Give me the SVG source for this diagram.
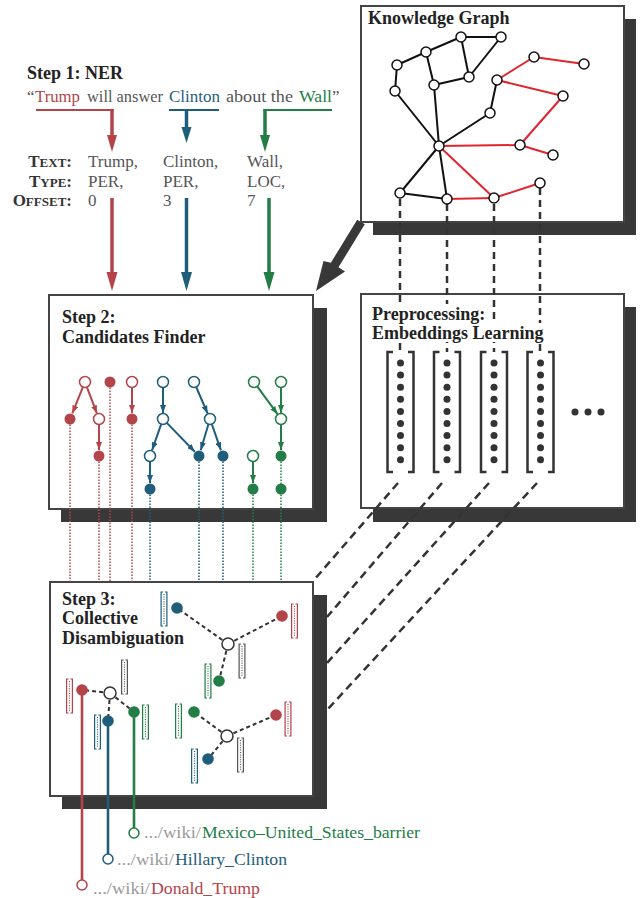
<svg xmlns="http://www.w3.org/2000/svg" width="641" height="898" viewBox="0 0 641 898">
<defs>
<style>
.t{font-family:'Liberation Serif','Times New Roman',serif;font-size:17px;fill:#555}
.h{font-family:'Liberation Serif','Times New Roman',serif;font-size:18px;font-weight:bold;fill:#222}
.lab{font-family:'Liberation Serif','Times New Roman',serif;font-size:17px;font-weight:bold;fill:#333}
.box{fill:#fff;stroke:#444;stroke-width:2}
.sh{fill:#383838}
.kgn{fill:#fff;stroke:#111;stroke-width:1.5}
.kge{stroke:#111;stroke-width:2;fill:none}
.kgr{stroke:#e0252e;stroke-width:2;fill:none}
.dash{stroke:#333;stroke-width:2.5;stroke-dasharray:7 5;fill:none}
.dot{stroke-width:1.5;stroke-dasharray:1.5 1.5;fill:none}
.cd{stroke:#333;stroke-width:2;stroke-dasharray:4 3;fill:none}
.R{stroke:#b3454a}.B{stroke:#1f5e7a}.G{stroke:#237d46}
.fR{fill:#b3454a}.fB{fill:#1f5e7a}.fG{fill:#237d46}
.o{fill:#fff;stroke-width:1.5}
.ar{stroke-width:2;fill:none}
.thick{stroke-width:3.5;fill:none}
.thin{stroke-width:2;fill:none}
.vb{fill:none;stroke:#333;stroke-width:2.5}
.vd{fill:#333}
.gray{fill:#999}
</style>
<marker id="mR" viewBox="0 0 8 6" markerWidth="8" markerHeight="6" refX="8" refY="3" orient="auto" markerUnits="userSpaceOnUse"><path d="M0,0L8,3L0,6z" fill="#b3454a"/></marker>
<marker id="mB" viewBox="0 0 8 6" markerWidth="8" markerHeight="6" refX="8" refY="3" orient="auto" markerUnits="userSpaceOnUse"><path d="M0,0L8,3L0,6z" fill="#1f5e7a"/></marker>
<marker id="mG" viewBox="0 0 8 6" markerWidth="8" markerHeight="6" refX="8" refY="3" orient="auto" markerUnits="userSpaceOnUse"><path d="M0,0L8,3L0,6z" fill="#237d46"/></marker>
<g id="vec" fill="none" stroke="currentColor">
<path d="M2.6,0H0.6V34H2.6M4.4,0H6.4V34H4.4" stroke-width="1.2"/>
<line x1="3.5" y1="2" x2="3.5" y2="32" stroke-width="1.2" stroke-dasharray="1 1.4"/>
</g>
</defs>
<rect width="641" height="898" fill="#fff"/>

<!-- big arrow KG -> step 2 -->
<g id="kg-arrow" fill="#383838">
<polygon points="357.2,219.7 364.8,224.3 338.5,267.3 345,271.5 316,291 323.5,261 330.9,262.7"/>
</g>

<!-- Boxes -->
<g id="kg-box"><rect class="sh" x="373" y="19" width="263" height="216"/><rect class="box" x="361" y="6" width="263" height="216"/><text class="h" x="368" y="24">Knowledge Graph</text></g>
<g id="step2-box"><rect class="sh" x="61" y="308" width="266" height="214"/><rect class="box" x="49" y="295" width="264" height="214"/><text class="h" x="62" y="323">Step 2:</text><text class="h" x="62" y="343">Candidates Finder</text></g>
<g id="preproc-box"><rect class="sh" x="373" y="307" width="263" height="215"/><rect class="box" x="361" y="294" width="263" height="214"/></g>
<g id="step3-box"><rect class="sh" x="62" y="595" width="265" height="214"/><rect class="box" x="50" y="582" width="263" height="214"/><text class="h" x="62" y="605">Step 3:</text><text class="h" x="62" y="624">Collective</text><text class="h" x="62" y="644">Disambiguation</text></g>

<!-- Step 1 -->
<g id="step1">
<text class="h" x="27" y="79">Step 1: NER</text>
<text class="t" x="27" y="102">“</text>
<text class="t" x="35" y="102" style="fill:#b3454a" textLength="45" lengthAdjust="spacingAndGlyphs">Trump</text>
<text class="t" x="87" y="102" textLength="76" lengthAdjust="spacingAndGlyphs">will answer</text>
<text class="t" x="169" y="102" style="fill:#1f5e7a" textLength="51" lengthAdjust="spacingAndGlyphs">Clinton</text>
<text class="t" x="226" y="102" textLength="67" lengthAdjust="spacingAndGlyphs">about the</text>
<text class="t" x="299" y="102" style="fill:#237d46" textLength="33" lengthAdjust="spacingAndGlyphs">Wall</text>
<text class="t" x="332" y="102">”</text>
<text class="lab" x="72" y="167" text-anchor="end">T<tspan font-size="13">EXT</tspan>:</text>
<text class="lab" x="72" y="186.5" text-anchor="end">T<tspan font-size="13">YPE</tspan>:</text>
<text class="lab" x="72" y="206" text-anchor="end">O<tspan font-size="13">FFSET</tspan>:</text>
<text class="t" x="88" y="167">Trump,</text><text class="t" x="88" y="186.5">PER,</text><text class="t" x="88" y="206">0</text>
<text class="t" x="163" y="167">Clinton,</text><text class="t" x="163" y="186.5">PER,</text><text class="t" x="163" y="206">3</text>
<text class="t" x="247" y="167">Wall,</text><text class="t" x="247" y="186.5">LOC,</text><text class="t" x="247" y="206">7</text>
</g>

<!-- Connectors -->
<g id="connectors">
<path class="R thin" d="M36,110H113.7"/><path class="R thick" d="M112,109V137"/><polygon class="fR" points="107,135 117,135 112,152"/>
<path class="B thin" d="M169,110H219"/><path class="B thick" d="M186.5,109V129"/><polygon class="fB" points="181.5,127 191.5,127 186.5,143"/>
<path class="G thin" d="M263.3,110H332"/><path class="G thick" d="M265,109V137"/><polygon class="fG" points="260,135 270,135 265,152"/>
<path class="R thick" d="M112,198V274"/><polygon class="fR" points="106.5,272 117.5,272 112,291"/>
<path class="B thick" d="M186.5,198V274"/><polygon class="fB" points="181,272 192,272 186.5,291"/>
<path class="G thick" d="M269,198V274"/><polygon class="fG" points="263.5,272 274.5,272 269,291"/>

<g class="kge">
<line x1="397" y1="65" x2="426" y2="52"/><line x1="426" y1="52" x2="461" y2="37"/><line x1="461" y1="37" x2="501" y2="37"/>
<line x1="461" y1="37" x2="469" y2="77"/><line x1="501" y1="37" x2="469" y2="77"/><line x1="426" y1="52" x2="434" y2="85"/>
<line x1="434" y1="85" x2="469" y2="77"/><line x1="397" y1="65" x2="395" y2="91"/><line x1="395" y1="91" x2="439" y2="146"/>
<line x1="434" y1="85" x2="439" y2="146"/><line x1="490" y1="113" x2="439" y2="146"/><line x1="497" y1="80" x2="490" y2="113"/>
<line x1="439" y1="146" x2="400" y2="193"/><line x1="439" y1="146" x2="447" y2="199"/><line x1="400" y1="193" x2="447" y2="199"/>
</g>
<g class="kgr">
<line x1="497" y1="80" x2="534" y2="57"/><line x1="534" y1="57" x2="584" y2="64"/><line x1="497" y1="80" x2="563" y2="96"/>
<line x1="563" y1="96" x2="520" y2="145"/><line x1="439" y1="146" x2="520" y2="145"/><line x1="520" y1="145" x2="553" y2="155"/>
<line x1="439" y1="146" x2="494" y2="198"/><line x1="447" y1="199" x2="494" y2="198"/><line x1="494" y1="198" x2="540" y2="183"/>
</g>
<path class="dash" d="M400,199V352M447,204V352M494,204V352M540,188V352"/>
<path class="dash" style="stroke-dasharray:8 5" d="M398,483L314,580M442,483L327,617M489,483L327,663M537,483L327,710"/>

<g class="R ar" marker-end="url(#mR)">
<line x1="82.9" y1="387.1" x2="72.3" y2="413.4"/><line x1="86.9" y1="387.1" x2="96.9" y2="413.4"/>
<line x1="99" y1="424.5" x2="99" y2="450"/><line x1="132" y1="387.5" x2="132" y2="413"/>
</g>
<g class="B ar" marker-end="url(#mB)">
<line x1="163" y1="387.5" x2="163" y2="413"/><line x1="161.2" y1="424.2" x2="152" y2="450.3"/>
<line x1="166.8" y1="422.9" x2="194.8" y2="451.7"/><line x1="196.2" y1="387" x2="207.6" y2="413.5"/>
<line x1="208.4" y1="424.3" x2="200.7" y2="450.2"/><line x1="211.8" y1="424.2" x2="221" y2="450.3"/>
<line x1="150" y1="461.5" x2="150" y2="483"/>
</g>
<g class="G ar" marker-end="url(#mG)">
<line x1="257.2" y1="386.4" x2="277.5" y2="414.2"/><line x1="281" y1="387.5" x2="281" y2="413"/>
<line x1="281" y1="424.5" x2="281" y2="450"/><line x1="253" y1="461.5" x2="253" y2="483"/>
</g>
<path class="dot R" d="M70,424.5V582M99,461.5V582M110,387.5V582M132,424.5V582"/>
<path class="dot B" d="M150,494.5V582M199,461.5V582M223,461.5V582"/>
<path class="dot G" d="M281,461.5V484M253,494.5V582M281,494.5V582"/>

<path class="cd" d="M110,693L82,690M110,693L108,721M110,693L134,712"/>
<path class="cd" d="M228,644L177,608M228,644L282,616M228,644L219,681"/>
<path class="cd" d="M227,736L194,712M227,736L276,715M227,736L208,759"/>
<path class="R" stroke-width="2.6" d="M82,690V880"/>
<path class="B" stroke-width="2.6" d="M108,721V854"/>
<path class="G" stroke-width="2.6" d="M134,712V828"/>
</g>

<!-- Preprocessing title and vectors -->
<g id="preproc">
<rect x="369" y="304" width="122" height="19" fill="#fff"/>
<rect x="369" y="323" width="179" height="19" fill="#fff"/>
<text class="h" x="372" y="320">Preprocessing:</text>
<text class="h" x="372" y="339">Embeddings Learning</text>
<g id="vec1"><path class="vb" d="M393,352H387.5V472H393M408,352H413.5V472H408"/></g>
<g id="vec2"><path class="vb" d="M439.5,352H434V472H439.5M454.5,352H460V472H454.5"/></g>
<g id="vec3"><path class="vb" d="M486.5,352H481V472H486.5M501.5,352H507V472H501.5"/></g>
<g id="vec4"><path class="vb" d="M533,352H527.5V472H533M548,352H553.5V472H548"/></g>
<g class="vd">
<circle cx="400.5" cy="363" r="3.5"/><circle cx="400.5" cy="375.1" r="3.5"/><circle cx="400.5" cy="387.2" r="3.5"/><circle cx="400.5" cy="399.3" r="3.5"/><circle cx="400.5" cy="411.4" r="3.5"/><circle cx="400.5" cy="423.5" r="3.5"/><circle cx="400.5" cy="435.6" r="3.5"/><circle cx="400.5" cy="447.7" r="3.5"/><circle cx="400.5" cy="459.8" r="3.5"/>
<circle cx="447" cy="363" r="3.5"/><circle cx="447" cy="375.1" r="3.5"/><circle cx="447" cy="387.2" r="3.5"/><circle cx="447" cy="399.3" r="3.5"/><circle cx="447" cy="411.4" r="3.5"/><circle cx="447" cy="423.5" r="3.5"/><circle cx="447" cy="435.6" r="3.5"/><circle cx="447" cy="447.7" r="3.5"/><circle cx="447" cy="459.8" r="3.5"/>
<circle cx="494" cy="363" r="3.5"/><circle cx="494" cy="375.1" r="3.5"/><circle cx="494" cy="387.2" r="3.5"/><circle cx="494" cy="399.3" r="3.5"/><circle cx="494" cy="411.4" r="3.5"/><circle cx="494" cy="423.5" r="3.5"/><circle cx="494" cy="435.6" r="3.5"/><circle cx="494" cy="447.7" r="3.5"/><circle cx="494" cy="459.8" r="3.5"/>
<circle cx="540.5" cy="363" r="3.5"/><circle cx="540.5" cy="375.1" r="3.5"/><circle cx="540.5" cy="387.2" r="3.5"/><circle cx="540.5" cy="399.3" r="3.5"/><circle cx="540.5" cy="411.4" r="3.5"/><circle cx="540.5" cy="423.5" r="3.5"/><circle cx="540.5" cy="435.6" r="3.5"/><circle cx="540.5" cy="447.7" r="3.5"/><circle cx="540.5" cy="459.8" r="3.5"/>
<circle cx="575" cy="412" r="3.5"/><circle cx="588" cy="412" r="3.5"/><circle cx="601" cy="412" r="3.5"/>
</g>
</g>

<g id="kg-nodes" class="kgn">
<circle cx="461" cy="37" r="5"/><circle cx="501" cy="37" r="5"/><circle cx="426" cy="52" r="5"/><circle cx="397" cy="65" r="5"/>
<circle cx="395" cy="91" r="5"/><circle cx="434" cy="85" r="5"/><circle cx="469" cy="77" r="5"/><circle cx="497" cy="80" r="5"/>
<circle cx="534" cy="57" r="5"/><circle cx="584" cy="64" r="5"/><circle cx="563" cy="96" r="5"/><circle cx="490" cy="113" r="5"/>
<circle cx="439" cy="146" r="5"/><circle cx="520" cy="145" r="5"/><circle cx="553" cy="155" r="5"/><circle cx="540" cy="183" r="5"/>
<circle cx="400" cy="193" r="5"/><circle cx="447" cy="199" r="5"/><circle cx="494" cy="198" r="5"/>
</g>

<g id="cand-trump">
<circle class="o R" cx="85" cy="382" r="5.5"/><circle class="fR" cx="110" cy="382" r="5.5"/><circle class="o R" cx="132" cy="382" r="5.5"/>
<circle class="fR" cx="70" cy="419" r="5.5"/><circle class="o R" cx="99" cy="419" r="5.5"/><circle class="fR" cx="132" cy="419" r="5.5"/>
<circle class="fR" cx="99" cy="456" r="5.5"/>
</g>
<g id="cand-clinton">
<circle class="o B" cx="163" cy="382" r="5.5"/><circle class="o B" cx="194" cy="382" r="5.5"/>
<circle class="o B" cx="163" cy="419" r="5.5"/><circle class="o B" cx="210" cy="419" r="5.5"/>
<circle class="o B" cx="150" cy="456" r="5.5"/><circle class="fB" cx="199" cy="456" r="5.5"/><circle class="fB" cx="223" cy="456" r="5.5"/>
<circle class="fB" cx="150" cy="489" r="5.5"/>
</g>
<g id="cand-wall">
<circle class="o G" cx="254" cy="382" r="5.5"/><circle class="o G" cx="281" cy="382" r="5.5"/>
<circle class="o G" cx="281" cy="419" r="5.5"/>
<circle class="o G" cx="253" cy="456" r="5.5"/><circle class="fG" cx="281" cy="456" r="5.5"/>
<circle class="fG" cx="253" cy="489" r="5.5"/><circle class="fG" cx="281" cy="489" r="5.5"/>
</g>

<g id="cluster1">
<use href="#vec" x="66" y="679" style="color:#b3454a"/><use href="#vec" x="121" y="660" style="color:#555"/>
<use href="#vec" x="94" y="715" style="color:#1f5e7a"/><use href="#vec" x="142" y="705" style="color:#237d46"/>
<circle class="fR" cx="82" cy="690" r="5.8"/><circle cx="110" cy="693" r="6" fill="#fff" stroke="#333" stroke-width="1.5"/>
<circle class="fB" cx="108" cy="721" r="5.8"/><circle class="fG" cx="134" cy="712" r="5.8"/>
</g>
<g id="cluster2">
<use href="#vec" x="160.5" y="592" style="color:#1f5e7a"/><use href="#vec" x="291" y="604" style="color:#b3454a"/>
<use href="#vec" x="238.5" y="644" style="color:#555"/><use href="#vec" x="204.5" y="664" style="color:#237d46"/>
<circle class="fB" cx="177" cy="608" r="5.8"/><circle cx="228" cy="644" r="6" fill="#fff" stroke="#333" stroke-width="1.5"/>
<circle class="fR" cx="282" cy="616" r="5.8"/><circle class="fG" cx="219" cy="681" r="5.8"/>
</g>
<g id="cluster3">
<use href="#vec" x="175" y="704" style="color:#237d46"/><use href="#vec" x="284.5" y="702" style="color:#b3454a"/>
<use href="#vec" x="237" y="738" style="color:#555"/><use href="#vec" x="191" y="749" style="color:#1f5e7a"/>
<circle class="fG" cx="194" cy="712" r="5.8"/><circle cx="227" cy="736" r="6" fill="#fff" stroke="#333" stroke-width="1.5"/>
<circle class="fR" cx="276" cy="715" r="5.8"/><circle class="fB" cx="208" cy="759" r="5.8"/>
</g>

<g id="link-wall">
<circle class="o G" cx="134" cy="833" r="5" stroke-width="2"/>
<text class="t gray" x="144" y="837.5" textLength="57" lengthAdjust="spacingAndGlyphs">.../wiki/</text>
<text class="t" x="202" y="837.5" style="fill:#237d46" textLength="218" lengthAdjust="spacingAndGlyphs">Mexico–United_States_barrier</text>
</g>
<g id="link-clinton">
<circle class="o B" cx="108" cy="859" r="5" stroke-width="2"/>
<text class="t gray" x="117" y="864.5" textLength="57" lengthAdjust="spacingAndGlyphs">.../wiki/</text>
<text class="t" x="175" y="864.5" style="fill:#1f5e7a" textLength="112" lengthAdjust="spacingAndGlyphs">Hillary_Clinton</text>
</g>
<g id="link-trump">
<circle class="o R" cx="82" cy="885" r="5" stroke-width="2"/>
<text class="t gray" x="93" y="893.5" textLength="57" lengthAdjust="spacingAndGlyphs">.../wiki/</text>
<text class="t" x="151" y="893.5" style="fill:#b3454a" textLength="109" lengthAdjust="spacingAndGlyphs">Donald_Trump</text>
</g>
</svg>
